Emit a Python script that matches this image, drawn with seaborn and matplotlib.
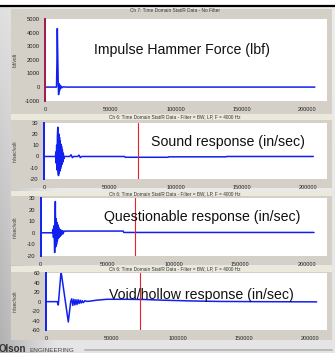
import numpy as np
import matplotlib
matplotlib.use("Agg")
import matplotlib.pyplot as plt
from matplotlib.patches import Rectangle
from matplotlib.lines import Line2D
import seaborn as sns

# ---- channel data (time in samples, amplitude in channel units) ----
hammer_t = [0, 8800, 9100, 9400, 9700, 10100, 10400, 10700, 11000, 11400,
            11800, 12300, 13000, 14000, 16000, 206000]
hammer_v = [0, 0, 1800, 4300, 2500, 300, -550, 250, -300, 150,
            -120, 60, -40, 20, 0, 0]

sound_t = [0, 8700, 9000, 9300, 9600, 9900, 10150, 10450, 10700, 11000,
           11250, 11500, 11750, 12000, 12250, 12500, 12750, 13000, 13300,
           13600, 13900, 14200, 14600, 15000, 15500, 19500, 20500, 21500,
           22500, 25500, 26500, 27500, 28500, 61000, 61500, 94000, 94500,
           138000, 138500, 204000]
sound_v = [0, 0, 4, -6, 10, -12, 18, 26, -14, -17,
           20, -15, 17, -13, 14, -11, 11, -9, 9,
           -7, 6, -5, 3, -2, 0, 0, 1.5, -1,
           0, 0, 1.2, -1, 0, 0, -0.7, -0.7, -0.3,
           -0.3, 0, 0]

quest_t = [0, 8800, 9200, 9600, 10000, 10300, 10500, 10800, 11000, 11300,
           11600, 11900, 12200, 12500, 12800, 13100, 13400, 13800, 14200,
           14600, 15000, 15500, 16000, 16600, 17200, 18000, 18500, 62000,
           62500, 205500]
quest_v = [0, 0, 3, -4, 6, -8, -17, 10, 27, -12,
           12, -10, 9, -7, 7, -5, 5, -4, 3,
           -3, 2.5, -2, 2, -1, 1.5, 1, 1.5, 1.5,
           0.3, 0.3]

void_t = [0, 8500, 9300, 11400, 16900, 18700, 19500, 20300, 21100, 21900,
          22700, 23500, 24300, 25100, 25900, 26700, 27500, 28300, 29500,
          31000, 33300, 38000, 46000, 60000, 75000, 90000, 110000, 130000,
          160000, 205000]
void_v = [0, 0, -7, 64, -43, 0, 6, -8, 5, -7,
          4, -6, 4, -4, 3, -3, 2, -2, 2,
          0.5, 1, 3, 5, 5, 4.5, 3, 1.5, 0.5,
          0, -0.5]

marker_time = 71000

x_ticks = [0, 50000, 100000, 150000, 200000]
hammer_ticks = [-1000, 0, 1000, 2000, 3000, 4000, 5000]
vel_ticks = [-20, -10, 0, 10, 20, 30]
void_ticks = [-60, -40, -20, 0, 20, 40, 60]

titles = ["Ch 7: Time Domain Stat/R Data - No Filter",
          "Ch 6: Time Domain Stat/R Data - Filter = BW, LP, F = 4000 Hz",
          "Ch 6: Time Domain Stat/R Data - Filter = BW, LP, F = 4000 Hz",
          "Ch 6: Time Domain Stat/R Data - Filter = BW, LP, F = 4000 Hz"]
ylabels = ["lbf/volt", "in/sec/volt", "in/sec/volt", "in/sec/volt"]
notes = ["Impulse Hammer Force (lbf)", "Sound response (in/sec)",
         "Questionable response (in/sec)", "Void/hollow response (in/sec)"]

sns.set_theme(style="white")
plt.rcParams["font.family"] = ["Liberation Sans", "DejaVu Sans"]

W, H = 335, 353
fig = plt.figure(figsize=(W / 100, H / 100), dpi=100)


def fx(px):
    return px / W


def fy(py):
    return 1 - py / H


# slide background
bg = fig.add_axes([0, 0, 1, 1], zorder=-10)
xx, yy = np.meshgrid(np.linspace(0, 1, 200), np.linspace(0, 1, 200))
shade = 0.93 - 0.16 * np.clip(1 - xx * 6, 0, 1) * (0.3 + yy) - 0.03 * yy
bg.imshow(np.dstack([shade] * 3), extent=[0, 1, 0, 1], aspect="auto",
          origin="upper")
bg.add_patch(Rectangle((0, fy(5)), 1, 1, color="white"))
bg.add_line(Line2D([0, 1], [fy(6), fy(6)], color="black", lw=1.6))
bg.add_line(Line2D([fx(85), fx(332)], [fy(349.5), fy(349.5)],
                   color="#b5b5b5", lw=1.3))
bg.set_xlim(0, 1)
bg.set_ylim(0, 1)
bg.axis("off")

fig.text(fx(-1), fy(351.5), "Olson", fontsize=7, fontweight="bold",
         color="#333333", va="baseline", ha="left")
fig.text(fx(29.5), fy(351.5), "ENGINEERING", fontsize=4.6, color="#444444",
         va="baseline", ha="left")

# panel frames: (frame top, frame bottom, band height)
frames = [(9, 115, 0), (114, 188, 6), (191, 265, 5), (266, 340, 6)]
for top, bot, band in frames:
    fig.patches.append(Rectangle((fx(11), fy(bot)), fx(321), (bot - top) / H,
                                 transform=fig.transFigure,
                                 facecolor="#d4d0c8", edgecolor="none",
                                 zorder=-5))
    if band:
        fig.patches.append(Rectangle((fx(11), fy(top + band)), fx(321),
                                     band / H, transform=fig.transFigure,
                                     facecolor="#ebe8dc", edgecolor="none",
                                     zorder=-4))

# axes placement in pixels: left, top, bottom, px per 50000 samples
layout = [(45, 19, 100.7, 65.5), (44, 122.7, 179, 66),
          (40.7, 198, 256, 66.5), (46, 273.3, 330, 66)]
right_px = 327
title_y = [10.5, 117, 193.5, 269]
note_pos = [(182, 50), (228, 141.7), (202, 217), (201, 295.5)]

series = [(hammer_t, hammer_v, hammer_ticks, (-1000, 5000)),
          (sound_t, sound_v, vel_ticks, (-20, 30)),
          (quest_t, quest_v, vel_ticks, (-20, 30)),
          (void_t, void_v, void_ticks, (-60, 60))]

trace_color = "#1020f0"
for i, ((left, top, bot, scale), (t, v, yt, ylim)) in enumerate(zip(layout, series)):
    ax = fig.add_axes([fx(left), fy(bot), fx(right_px - left), (bot - top) / H])
    ax.set_facecolor("white")
    sns.lineplot(x=t, y=v, ax=ax, color=trace_color, linewidth=1.1,
                 estimator=None, sort=False)
    if i > 0:
        ax.axvline(marker_time, color="#e8202a", lw=0.8, zorder=3)
    ax.set_xlim(0, (right_px - left) / scale * 50000)
    ax.set_ylim(*ylim)
    ax.set_xticks(x_ticks)
    ax.set_xticklabels([str(k) for k in x_ticks])
    ax.set_yticks(yt)
    ax.set_yticklabels([str(k) for k in yt])
    ax.tick_params(axis="both", direction="out", length=3, width=0.8,
                   colors="#222222", pad=1.5)
    ax.tick_params(axis="x", labelsize=4, pad=1.5)
    ax.tick_params(axis="y", labelsize=4.2, pad=0.8)
    ax.set_xlabel("")
    ax.set_ylabel("")
    for side in ("top", "right", "bottom"):
        ax.spines[side].set_visible(False)
    ax.spines["left"].set_color("#a0184a" if i == 0 else trace_color)
    ax.spines["left"].set_linewidth(1.4)
    ax.grid(False)

    fig.text(fx(175), fy(title_y[i]), titles[i], fontsize=3.4,
             color="#333333", ha="center", va="center")
    fig.text(fx(15.5), fy((top + bot) / 2), ylabels[i], fontsize=3.4,
             color="#333333", rotation=90, ha="center", va="center")
    nx, ny = note_pos[i]
    fig.text(fx(nx), fy(ny), notes[i], fontsize=10.2, color="#111111",
             ha="center", va="center")

fig.savefig("out.png", dpi=100)
